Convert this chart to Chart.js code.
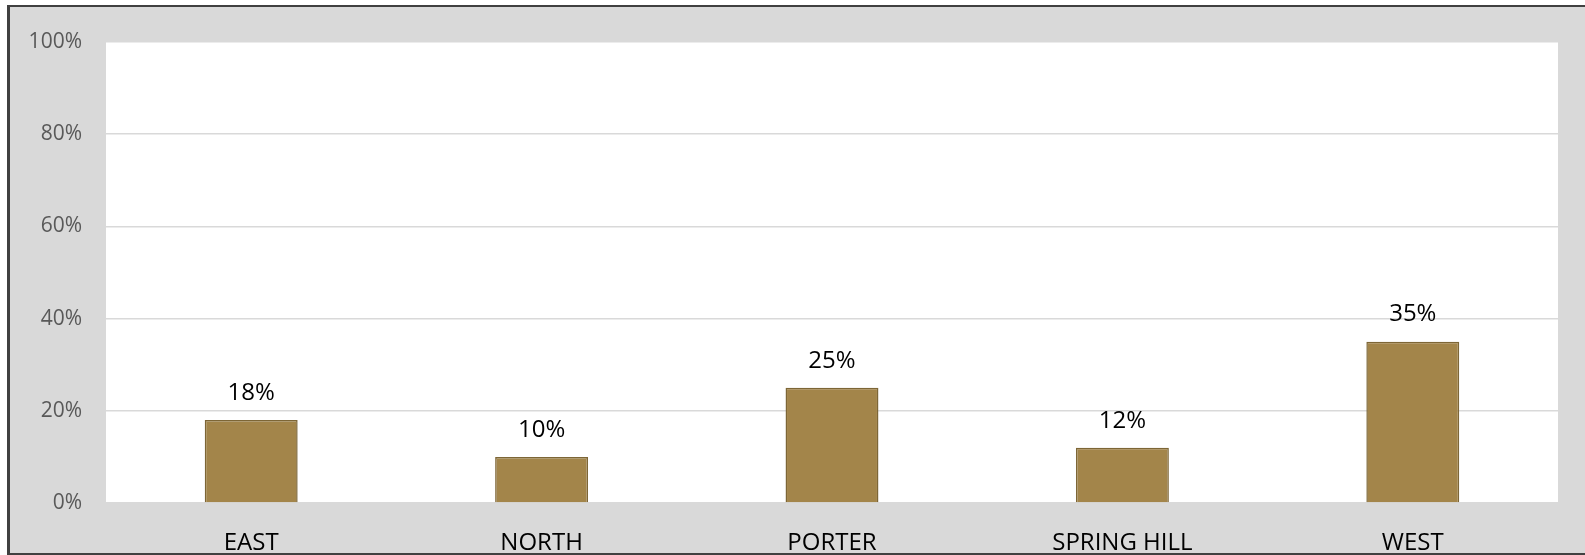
<!DOCTYPE html>
<html>
<head>
<meta charset="utf-8">
<script src="https://cdn.jsdelivr.net/npm/chart.js@4.4.1/dist/chart.umd.min.js"></script>
<style>
  html, body { margin: 0; padding: 0; background: #fff; overflow: hidden; }
  #frame {
    position: absolute; left: 7px; top: 5px; width: 1590px; height: 546px;
    background: #d9d9d9; border-left: 3px solid #404040; border-top: 2px solid #404040; border-bottom: 2px solid #404040;
  }
  #wrap { position: absolute; left: 0; top: 0; width: 1585px; height: 555px; }
</style>
</head>
<body>
<div id="frame"></div>
<div id="wrap"><canvas id="myChart" width="1585" height="555"></canvas></div>
<script>
// chart data
var regions = ["EAST", "NORTH", "PORTER", "SPRING HILL", "WEST"];
var shares = [18, 10, 25, 12, 35];
var yTicks = [0, 20, 40, 60, 80, 100];

var plotBg = {
  id: 'plotBg',
  beforeDraw: function(chart) {
    var a = chart.chartArea, c = chart.ctx;
    c.save();
    c.fillStyle = '#ffffff';
    c.fillRect(a.left, a.top, a.right - a.left, a.bottom - a.top);
    c.restore();
  }
};

var barLabels = {
  id: 'barLabels',
  afterDatasetsDraw: function(chart) {
    var c = chart.ctx;
    var meta = chart.getDatasetMeta(0);
    c.save();
    c.font = '24px "Open Sans"';
    c.fillStyle = '#000000';
    c.textAlign = 'center';
    c.textBaseline = 'middle';
    meta.data.forEach(function(bar, i) {
      c.fillText(shares[i] + '%', bar.x, bar.y - 27);
    });
    c.restore();
  }
};

var ctx = document.getElementById('myChart').getContext('2d');
var chart = new Chart(ctx, {
  type: 'bar',
  data: {
    labels: regions,
    datasets: [{
      data: shares,
      backgroundColor: '#a3854a',
      borderColor: '#7d6636',
      borderWidth: 1.5,
      barPercentage: 0.32,
      categoryPercentage: 1
    }]
  },
  options: {
    responsive: false,
    animation: false,
    devicePixelRatio: 1,
    layout: { padding: { top: 42, right: 27, bottom: 0, left: 0 } },
    plugins: { legend: { display: false }, tooltip: { enabled: false } },
    scales: {
      x: {
        grid: { display: false },
        border: { display: false },
        ticks: { color: '#000000', font: { family: 'Open Sans', size: 24 }, padding: 18, maxRotation: 0, autoSkip: false },
        afterFit: function(scale) { scale.height = 52; }
      },
      y: {
        min: 0,
        max: 100,
        afterBuildTicks: function(scale) {
          scale.ticks = yTicks.map(function(v) { return { value: v }; });
        },
        grid: { color: '#d9d9d9', lineWidth: 1.5, drawTicks: false },
        border: { display: false },
        ticks: {
          color: '#595959',
          font: { family: 'Open Sans', size: 21 },
          padding: 24,
          callback: function(v) { return v + '%'; }
        },
        afterFit: function(scale) { scale.width = 106; }
      }
    }
  },
  plugins: [plotBg, barLabels]
});
</script>
</body>
</html>
